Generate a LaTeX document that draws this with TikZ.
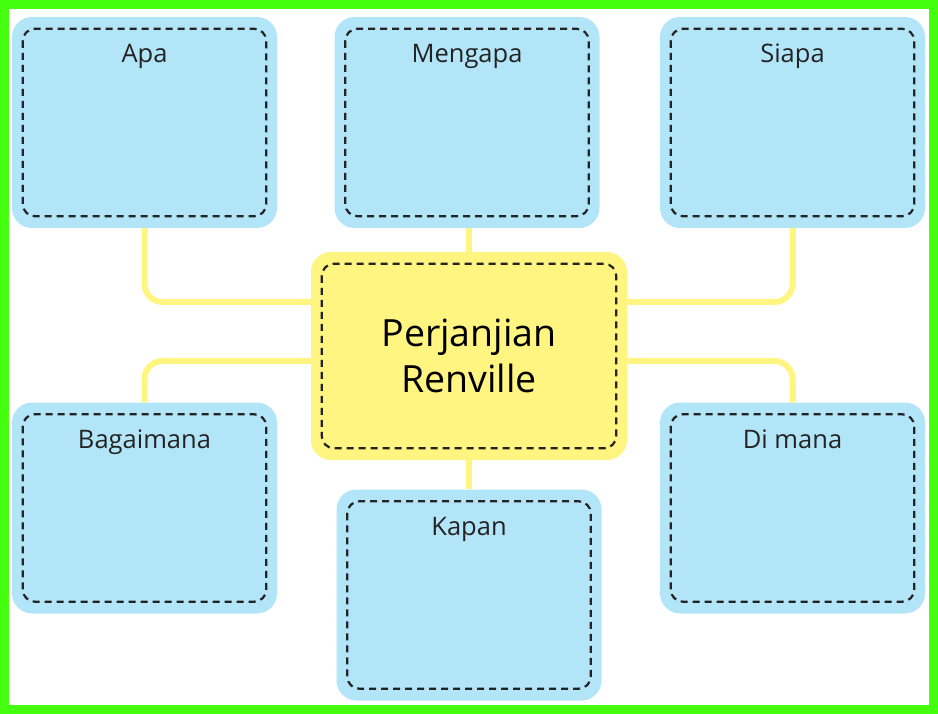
\documentclass[tikz,border=0pt]{standalone}
\usepackage{fontspec}
\setmainfont{Open Sans}
\usetikzlibrary{positioning}
\definecolor{biru}{RGB}{179,229,248}
\definecolor{kuning}{RGB}{255,245,128}
\definecolor{hijau}{RGB}{68,255,14}
\definecolor{tinta}{RGB}{35,35,35}

\begin{document}
\begin{tikzpicture}[x=1pt,y=-1pt,
  kotak/.style={rectangle,rounded corners=20pt,fill=biru,minimum width=265pt,minimum height=211pt,inner sep=0pt},
  pusat/.style={kotak,fill=kuning,minimum width=316pt,minimum height=208pt},
  putus/.style={draw=tinta,line width=2.2pt,dash pattern=on 7pt off 5pt,rounded corners=12pt},
  judul/.style={anchor=base,font=\fontsize{25.5}{30}\selectfont,text=tinta},
  sambung/.style={draw=kuning,line width=6pt,rounded corners=18pt}]
  \useasboundingbox (0,0) rectangle (938,714);
  \draw[hijau,line width=9pt] (4.5,4.5) rectangle (933.5,709.5);

  \node[kotak] (apa)       at (144.5,122.5) {};
  \node[kotak] (mengapa)   at (467,122.5)   {};
  \node[kotak] (siapa)     at (792.5,122.5) {};
  \node[pusat] (tengah)    at (469,356)     {};
  \node[kotak] (bagaimana) at (144.5,508)   {};
  \node[kotak] (dimana)    at (792.5,508)   {};
  \node[kotak] (kapan)     at (469,595)     {};

  \draw[sambung] (apa.south) |- ([yshift=54pt]tengah.west);
  \draw[sambung] (siapa.south) |- ([yshift=54pt]tengah.east);
  \draw[sambung] ([yshift=-5pt]tengah.west) -| (bagaimana.north);
  \draw[sambung] ([yshift=-5pt]tengah.east) -| (dimana.north);
  \draw[sambung] (tengah.north) -- (tengah.north |- mengapa.south);
  \draw[sambung] (tengah.south) -- (kapan.north);

  \foreach \n in {apa,mengapa,siapa,tengah,bagaimana,dimana,kapan}
    \draw[putus] ([shift={(11pt,-12pt)}]\n.north west) rectangle ([shift={(-11pt,12pt)}]\n.south east);

  \node[judul] (tapa)       at ([yshift=-46pt]apa.north)       {Apa};
  \node[judul] (tmengapa)   at ([yshift=-46pt]mengapa.north)   {Mengapa};
  \node[judul] (tsiapa)     at ([yshift=-46pt]siapa.north)     {Siapa};
  \node[judul] (tbagaimana) at ([yshift=-46pt]bagaimana.north) {Bagaimana};
  \node[judul] (tdimana)    at ([yshift=-46pt]dimana.north)    {Di mana};
  \node[judul] (tkapan)     at ([yshift=-46pt]kapan.north)     {Kapan};
  \node[align=center,font=\fontsize{37.5}{46}\selectfont] (tjudul) at (tengah) {Perjanjian\\Renville};
\end{tikzpicture}
\end{document}
